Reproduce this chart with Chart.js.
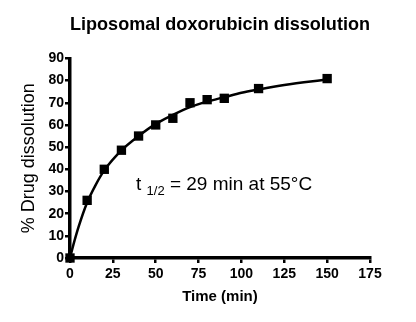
<!DOCTYPE html>
<html><head><meta charset="utf-8">
<script src="https://cdn.jsdelivr.net/npm/chart.js@4"></script>
<style>html,body{margin:0;padding:0;background:#fff}canvas{display:block}</style>
</head><body>
<canvas id="c" width="416" height="322"></canvas>
<script>
const timeMin = [0, 10, 20, 30, 40, 50, 60, 70, 80, 90, 110, 150];
const dissolution = [0, 26, 40, 48.6, 55, 60, 63, 70, 71.4, 72, 76.4, 80.9];
const fitTime = [0, 2, 5, 10, 15, 20, 30, 40, 50, 60, 70, 80, 90, 100, 110, 125, 150];
const fitValue = [0, 6, 14, 25, 33, 39.5, 48.5, 55, 60.5, 64.5, 68, 70.5, 72.5, 74.5, 76, 78, 80.5];
const xTicks = [0, 25, 50, 75, 100, 125, 150, 175];
const yTicks = [0, 10, 20, 30, 40, 50, 60, 70, 80, 90];
const titleText = 'Liposomal doxorubicin dissolution';
const xTitle = 'Time (min)';
const yTitle = '% Drug dissolution';
const noteMain = 't';
const noteSub = '1/2';
const noteRest = ' = 29 min at 55\u00B0C';

const FAM = '"Liberation Sans", Arial, sans-serif';

const annot = {
  id: 'annot',
  afterDatasetsDraw(chart) {
    const ctx = chart.ctx;
    const xs = chart.scales.x, ys = chart.scales.y;
    let x = xs.getPixelForValue(38.5);
    const y = ys.getPixelForValue(30.5);
    ctx.save();
    ctx.fillStyle = '#000';
    ctx.textBaseline = 'alphabetic';
    ctx.textAlign = 'left';
    ctx.font = '19px ' + FAM;
    ctx.fillText(noteMain, x, y);
    x += ctx.measureText(noteMain + ' ').width;
    ctx.font = '13px ' + FAM;
    ctx.fillText(noteSub, x, y + 5);
    x += ctx.measureText(noteSub).width;
    ctx.font = '19px ' + FAM;
    ctx.fillText(noteRest, x, y);
    ctx.restore();
  }
};

new Chart(document.getElementById('c'), {
  type: 'scatter',
  data: {
    datasets: [
      {
        data: fitTime.map((t, i) => ({x: t, y: fitValue[i]})),
        showLine: true,
        borderColor: '#000',
        borderWidth: 2.5,
        pointRadius: 0,
        cubicInterpolationMode: 'monotone',
        clip: false
      },
      {
        data: timeMin.map((t, i) => ({x: t, y: dissolution[i]})),
        showLine: false,
        pointStyle: 'rect',
        pointRadius: 6.6,
        backgroundColor: '#000',
        borderColor: '#000',
        borderWidth: 0,
        clip: false
      }
    ]
  },
  options: {
    responsive: false,
    animation: false,
    devicePixelRatio: 1,
    layout: {padding: {left: 0, right: 46, top: 0, bottom: 0}},
    plugins: {
      legend: {display: false},
      tooltip: {enabled: false},
      title: {
        display: true,
        text: titleText,
        fullSize: false,
        color: '#000',
        font: {family: FAM, size: 19, weight: 'bold'},
        padding: {top: 13, bottom: 22.6}
      }
    },
    scales: {
      x: {
        type: 'linear',
        min: 0, max: 175,
        afterBuildTicks: s => { s.ticks = xTicks.map(v => ({value: v})); },
        afterFit: s => { s.height = 64; },
        ticks: {color: '#000', font: {family: FAM, size: 14, weight: 'bold'}, padding: 3, maxRotation: 0, autoSkip: false},
        grid: {drawOnChartArea: false, color: '#000', lineWidth: 2.5, tickLength: 5},
        border: {color: '#000', width: 3.5},
        title: {display: true, text: xTitle, color: '#000', font: {family: FAM, size: 15, weight: 'bold'}, padding: {top: 0, bottom: 16}}
      },
      y: {
        type: 'linear',
        min: 0, max: 90,
        afterBuildTicks: s => { s.ticks = yTicks.map(v => ({value: v})); },
        afterFit: s => { s.width = 70; },
        ticks: {color: '#000', font: {family: FAM, size: 14, weight: 'bold'}, padding: 1, autoSkip: false},
        grid: {drawOnChartArea: false, color: '#000', lineWidth: 2.5, tickLength: 5},
        border: {color: '#000', width: 3.5},
        title: {display: true, text: yTitle, color: '#000', font: {family: FAM, size: 18, weight: 'normal'}, padding: {top: 18, bottom: 0}}
      }
    }
  },
  plugins: [annot]
});
</script>
</body></html>
